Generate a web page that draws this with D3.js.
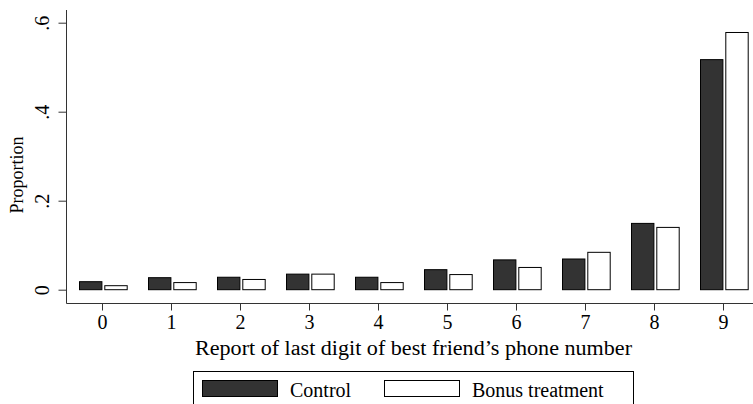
<!DOCTYPE html>
<html>
<head>
<meta charset="utf-8">
<script src="https://cdn.jsdelivr.net/npm/d3@7/dist/d3.min.js"></script>
<style>
  html, body { margin: 0; padding: 0; background: #fff; }
  svg { display: block; }
  text { font-family: "Liberation Serif", "Times New Roman", serif; fill: #000; }
</style>
</head>
<body>
<svg id="chart" width="753" height="404"></svg>
<script>
const categories = [0, 1, 2, 3, 4, 5, 6, 7, 8, 9];
const controlValues = [0.018, 0.027, 0.028, 0.035, 0.028, 0.045, 0.067, 0.069, 0.149, 0.517];
const bonusValues   = [0.009, 0.016, 0.023, 0.035, 0.016, 0.034, 0.050, 0.084, 0.140, 0.578];
const yTicks = [0, 0.2, 0.4, 0.6];
const yTickLabels = ["0", ".2", ".4", ".6"];
const seriesNames = ["Control", "Bonus treatment"];
const xTitle = "Report of last digit of best friend\u2019s phone number";
const yTitle = "Proportion";

const svg = d3.select("#chart");

const x = d3.scaleLinear().domain([0, 9]).range([102, 723]);
const y = d3.scaleLinear().domain([0, 0.6]).range([289.7, 22.7]);

const axisLeftX = 66.5, axisBottomY = 303.5, axisTop = 10, axisRight = 753;
const barW = 22.4;

// bars
const g = svg.append("g");
g.selectAll("rect.control").data(categories).join("rect")
  .attr("class", "control")
  .attr("x", d => x(d) - 22.5)
  .attr("width", barW)
  .attr("y", (d, i) => y(controlValues[i]))
  .attr("height", (d, i) => y(0) - y(controlValues[i]))
  .attr("fill", "#333333").attr("stroke", "#000").attr("stroke-width", 1);
g.selectAll("rect.bonus").data(categories).join("rect")
  .attr("class", "bonus")
  .attr("x", d => x(d) + 2.8)
  .attr("width", barW)
  .attr("y", (d, i) => y(bonusValues[i]))
  .attr("height", (d, i) => y(0) - y(bonusValues[i]))
  .attr("fill", "#ffffff").attr("stroke", "#000").attr("stroke-width", 1);

// axes lines
svg.append("line").attr("x1", axisLeftX).attr("x2", axisLeftX).attr("y1", axisTop).attr("y2", axisBottomY)
  .attr("stroke", "#333").attr("stroke-width", 1);
svg.append("line").attr("x1", axisLeftX).attr("x2", axisRight).attr("y1", axisBottomY).attr("y2", axisBottomY)
  .attr("stroke", "#333").attr("stroke-width", 1);

// y axis
const yAxis = d3.axisLeft(y).tickValues(yTicks).tickFormat((d, i) => yTickLabels[i]).tickSize(8).tickPadding(0);
const ya = svg.append("g").attr("transform", `translate(${axisLeftX},0)`).call(yAxis);
ya.select(".domain").remove();
ya.selectAll(".tick line").attr("stroke", "#333");
ya.selectAll(".tick text")
  .attr("x", null).attr("dy", null)
  .attr("transform", "translate(-18,0) rotate(-90)")
  .attr("text-anchor", "middle")
  .attr("font-size", 20)
  .style("font-family", "Liberation Serif, serif");

// x axis
const xAxis = d3.axisBottom(x).tickValues(categories).tickFormat(d => String(d)).tickSize(7).tickPadding(0);
const xa = svg.append("g").attr("transform", `translate(0,${axisBottomY})`).call(xAxis);
xa.select(".domain").remove();
xa.selectAll(".tick line").attr("stroke", "#333");
xa.selectAll(".tick text")
  .attr("y", 25.5).attr("dy", null)
  .attr("font-size", 20)
  .style("font-family", "Liberation Serif, serif");

// titles
svg.append("text").attr("x", 195).attr("y", 354.5)
  .attr("font-size", 20).attr("textLength", 437).attr("lengthAdjust", "spacingAndGlyphs").text(xTitle);
svg.append("text").attr("transform", "translate(23,175) rotate(-90)").attr("text-anchor", "middle")
  .attr("font-size", 18).text(yTitle);

// legend
const lg = svg.append("g");
lg.append("rect").attr("x", 193.5).attr("y", 371.5).attr("width", 440).attr("height", 50)
  .attr("fill", "#fff").attr("stroke", "#000").attr("stroke-width", 1);
const legendX = [202.5, 384.5];
const legendFill = ["#333333", "#ffffff"];
seriesNames.forEach((name, i) => {
  lg.append("rect").attr("x", legendX[i]).attr("y", 380.5).attr("width", 75).attr("height", 16)
    .attr("fill", legendFill[i]).attr("stroke", "#000").attr("stroke-width", 1);
  lg.append("text").attr("x", legendX[i] + 87.5).attr("y", 396.5).attr("font-size", 20).text(name);
});
</script>
</body>
</html>
